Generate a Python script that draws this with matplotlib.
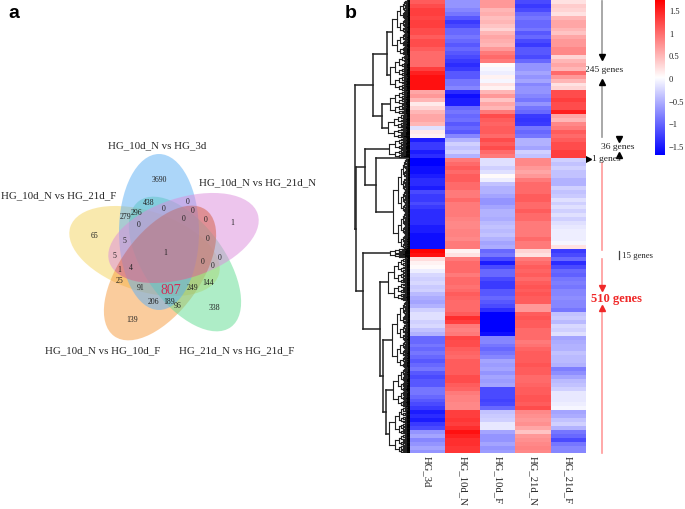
import numpy as np
import matplotlib
matplotlib.use("Agg")
import matplotlib.pyplot as plt
from matplotlib.colors import LinearSegmentedColormap
from matplotlib.patches import Ellipse

W, H = 685, 510
plt.rcParams['font.family'] = ['Liberation Serif', 'DejaVu Serif']

# venn
venn_names = ['HG_10d_N vs HG_21d_F', 'HG_10d_N vs HG_10d_F', 'HG_21d_N vs HG_21d_F',
              'HG_10d_N vs HG_3d', 'HG_10d_N vs HG_21d_N']
venn_colors = ['#F5D45E', '#F79A3C', '#5FDC90', '#5AAEF5', '#DC8CDC']
venn_counts = ['3690', '438', '279', '296', '0', '0', '0', '0', '0', '0', '5', '5', '1', '4', '25', '91',
               '65', '1', '0', '0', '0', '0', '144', '249', '338', '206', '189', '96', '139', '1']
venn_total = '807'

# heatmap, rows top to bottom
samples = ['HG_3d', 'HG_10d_N', 'HG_10d_F', 'HG_21d_N', 'HG_21d_F']
row_genes = [7] * 35 + [8, 7, 7, 7, 7] + [1] + [7] * 23 + [8, 7] + [7] * 49 + [6]
hg_3d = [1.1, 1.2, 1.3, 1.3, 1.25, 1.3, 1.3, 1.2, 1.2, 1.1, 1.2, 1.2, 1.1, 1.0, 1.0, 1.0, 1.0,
         1.3, 1.5, 1.6, 1.6, 1.6, 1.6,
         0.6, 0.7, 0.5, 0.15, 0.3, 0.5, 0.6, 0.6, 0.5, -0.2, 0.15, 0.1,
         -1.5, -1.3, -1.3, -1.5, -1.4,
         -1.7,
         -1.7, -1.7, -1.6, -1.6, -1.5, -1.4, -1.4, -1.5, -1.2, -1.3, -1.3, -1.2, -1.3, -1.4, -1.4, -1.4,
         -1.4, -1.5, -1.5, -1.6, -1.6, -1.6, -1.6,
         1.7, 1.6,
         0.25, 0.1, 0.05, -0.1, -0.25, -0.3, -0.25, -0.35, -0.3, -0.45, -0.55, -0.6, -0.5, -0.3, -0.2, -0.2,
         -0.3, -0.25, -0.4, -0.5, -1.0, -1.0, -0.9, -1.0, -0.9, -1.0, -1.1, -1.0, -0.9, -1.1, -1.2, -1.1,
         -1.1, -0.9, -0.9, -1.0, -1.1, -1.2, -1.3, -1.5, -1.4, -1.5, -1.3, -1.2, -0.7, -0.6, -0.8, -0.7, -0.6, -0.7]
hg_10d_n = [-0.7, -0.7, -0.8, -0.9, -1.1, -1.3, -1.2, -1.0, -1.0, -0.9, -1.0, -1.1, -1.0, -1.1, -1.2, -1.3, -1.4,
            -1.3, -1.1, -1.1, -0.9, -0.9, -0.8,
            -1.4, -1.6, -1.5, -1.5, -1.0, -0.9, -1.0, -0.95, -1.1, -1.0, -1.1, -0.8,
            -0.5, -0.3, -0.4, -0.3, -0.5,
            0.9,
            0.9, 1.0, 1.1, 1.0, 1.1, 1.1, 1.0, 1.0, 0.9, 0.9, 1.0, 0.9, 0.9, 0.9, 0.9, 0.85,
            0.8, 0.8, 0.85, 0.85, 0.8, 0.9, 0.9,
            0.1, 0.2,
            0.9, 1.0, 1.0, 1.0, 0.9, 1.0, 1.0, 0.95, 1.0, 1.1, 1.05, 1.0, 1.0, 1.0, 1.1, 1.4,
            1.3, 0.9, 0.85, 0.9, 1.25, 1.2, 1.2, 1.1, 1.05, 1.0, 1.1, 1.1, 1.1, 1.1, 1.2, 1.2,
            1.1, 1.05, 0.9, 0.85, 0.85, 0.8, 0.8, 1.3, 1.3, 1.35, 1.3, 1.4, 1.6, 1.5, 1.4, 1.4, 1.35, 1.35]
hg_10d_f = [0.7, 0.7, 0.5, 0.55, 0.45, 0.5, 0.4, 0.3, 0.5, 0.6, 0.55, 0.5, 0.7, 0.9, 1.0, 0.9, 0.05,
            -0.05, -0.1, 0.1, -0.05, 0.2, 0.1,
            0.5, 0.7, 0.4, 0.6, 0.5, 0.9, 1.2, 1.1, 1.05, 1.1, 1.1, 1.0,
            1.2, 1.1, 1.2, 1.0, 0.9,
            0.1,
            -0.2, -0.2, -0.3, -0.2, 0.05, -0.1, -0.4, -0.5, -0.5, -0.6, -0.7, -0.7, -0.6, -0.5, -0.5, -0.55,
            -0.45, -0.4, -0.45, -0.4, -0.5, -0.6, -0.55,
            -1.0, -0.9,
            -1.2, -1.5, -1.2, -1.0, -1.0, -1.2, -1.3, -1.3, -1.1, -1.1, -1.0, -1.1, -1.2, -1.4, -1.7, -1.7,
            -1.7, -1.7, -1.7, -1.6, -0.8, -0.8, -0.9, -1.0, -0.9, -0.8, -0.6, -0.65, -0.6, -0.7, -0.6, -0.65,
            -0.6, -1.2, -1.2, -1.2, -1.25, -1.2, -1.0, -0.4, -0.35, -0.3, -0.15, -0.15, -0.6, -0.7, -0.7, -0.6, -0.7, -0.65]
hg_21d_n = [-1.2, -1.3, -1.2, -1.0, -0.9, -1.0, -1.0, -0.9, -1.1, -1.0, -1.2, -1.3, -1.1, -1.1, -1.2, -1.0, -0.7,
            -0.7, -0.6, -0.7, -0.6, -0.8, -0.7,
            -0.7, -0.8, -0.9, -0.7, -0.9, -1.0, -1.3, -1.35, -1.3, -0.9, -1.0, -0.9,
            -0.5, -0.5, -0.6, -0.3, -0.4,
            0.8,
            0.8, 0.8, 0.7, 0.6, 0.7, 0.9, 1.0, 1.0, 1.0, 1.1, 1.1, 1.0, 1.0, 1.1, 1.0, 1.0,
            0.9, 0.9, 0.9, 0.9, 1.0, 0.9, 0.9,
            0.3, 0.2,
            0.9, 1.0, 1.1, 1.05, 1.1, 1.0, 1.1, 1.15, 1.1, 1.15, 1.1, 1.1, 0.7, 0.7, 1.1, 1.15,
            1.1, 1.1, 1.0, 1.0, 1.0, 0.9, 0.95, 1.05, 1.1, 1.1, 1.1, 1.15, 1.1, 1.1, 1.0, 1.0,
            1.05, 1.1, 1.1, 1.15, 1.15, 1.1, 1.2, 0.8, 0.75, 0.7, 0.75, 0.6, 0.4, 0.7, 0.75, 0.8, 0.85, 0.8]
hg_21d_f = [0.2, 0.35, 0.3, 0.2, 0.5, 0.6, 0.6, 0.5, 0.4, 0.6, 0.7, 0.7, 0.8, 0.8, 0.3, 0.5, 0.6,
            0.5, 1.0, 0.7, 0.5, 0.2, 0.3,
            1.2, 1.2, 1.3, 1.2, 1.2, 1.5, 0.6, 0.5, 0.8, 0.9, 1.1, 1.0,
            1.1, 1.2, 1.2, 1.3, 1.3,
            0.15,
            -0.3, -0.4, -0.3, -0.4, -0.4, -0.5, -0.5, -0.3, -0.4, -0.35, -0.2, -0.3, -0.2, -0.3, -0.2, -0.3,
            -0.2, -0.15, -0.1, -0.1, -0.1, -0.05, 0.2,
            -1.3, -1.2,
            -1.0, -1.4, -1.2, -1.0, -1.05, -0.9, -0.85, -0.9, -0.8, -0.8, -0.75, -0.8, -0.8, -0.9, -0.4, -0.35,
            -0.45, -0.25, -0.3, -0.2, -0.6, -0.55, -0.5, -0.5, -0.4, -0.45, -0.45, -0.5, -0.85, -0.75, -0.6, -0.45,
            -0.4, -0.3, -0.15, -0.15, -0.15, -0.1, -0.05, -0.6, -0.55, -0.4, -0.3, -0.5, -0.9, -1.0, -1.2, -0.9, -0.8, -0.8]
cbar_ticks = [1.5, 1, 0.5, 0, -0.5, -1, -1.5]


def px_axes(x0, y0, x1, y1):
    # axes from pixel box, y counted from the top of the picture
    return fig.add_axes([x0 / W, 1 - y1 / H, (x1 - x0) / W, (y1 - y0) / H])


fig = plt.figure(figsize=(W / 100, H / 100), dpi=100)
cmap = LinearSegmentedColormap.from_list('bwr2', ['#0000FF', '#FFFFFF', '#FF0000'])

# overlay in picture pixels for the venn and notes
ax = px_axes(0, 0, W, H)
ax.set_xlim(0, W)
ax.set_ylim(H, 0)
ax.axis('off')

venn_xy = [(144.5, 252), (160, 274), (185, 265), (159, 233), (183.5, 239)]
venn_angle = [18, -54, 54, 90, -18]
patches = []
for xy, a, c in zip(venn_xy, venn_angle, venn_colors):
    patches.append(ax.add_patch(Ellipse(xy, 156, 80, angle=a, facecolor=c, edgecolor='none', alpha=0.5)))
# orange under purple goes salmon red in the original
tint = ax.add_patch(Ellipse(venn_xy[1], 156, 80, angle=venn_angle[1], facecolor='#C8503C', edgecolor='none', alpha=0.3))
tint.set_clip_path(patches[4])

name_xy = [(59, 196), (103, 351), (237, 351), (157, 146), (258, 183)]
for n, (x, y) in zip(venn_names, name_xy):
    ax.text(x, y, n, fontsize=7.8, ha='center', va='center', color='#222222')

count_xy = [(477, 150), (445, 219), (375, 262), (410, 250), (491, 238), (563, 215), (578, 243), (618, 270),
            (551, 267), (417, 285), (372, 332), (343, 379), (359, 421), (393, 414), (358, 452), (423, 474),
            (285, 319), (497, 369), (622, 327), (607, 396), (659, 383), (639, 408), (625, 458), (577, 474),
            (642, 534), (459, 517), (507, 516), (533, 529), (396, 570), (697, 279)]
for s, (x, y) in zip(venn_counts, count_xy):
    ax.text(x / 3, 130 + y / 3, s, fontsize=5.6, ha='center', va='center', color='#222222')
ax.text(171, 291, venn_total, fontsize=10, ha='center', va='center', color='#D22C58')

ax.text(14, 14, 'a', fontsize=14, fontweight='bold', family='Liberation Sans', ha='center', va='center')
ax.text(351, 13, 'b', fontsize=14, fontweight='bold', family='Liberation Sans', ha='center', va='center')

# gene count notes right of the heatmap
line_x = 601.7
ax.plot([line_x, line_x], [2, 57], color='#999999', lw=1.2)
ax.plot([line_x, line_x], [84, 138], color='#999999', lw=1.2)
ax.plot([line_x], [58], marker='v', ms=5, color='black')
ax.plot([line_x], [83], marker='^', ms=5, color='black')
ax.text(604.5, 70, '245 genes', fontsize=6.8, ha='center', va='center', color='#222222')
ax.plot([619.5], [139.5], marker='v', ms=4.5, color='black')
ax.plot([619.5], [155.5], marker='^', ms=4.5, color='black')
ax.text(618, 147, '36 genes', fontsize=6.8, ha='center', va='center', color='#222222')
ax.plot([588.5], [159.5], marker='>', ms=4.5, color='black')
ax.text(592, 159, '1 genes', fontsize=6.8, ha='left', va='center', color='#222222')
ax.plot([line_x, line_x], [164, 251], color='#FF9A9A', lw=1.2)
ax.plot([line_x, line_x], [260, 286], color='#FF9A9A', lw=1.2)
ax.plot([line_x, line_x], [312, 454], color='#FF9A9A', lw=1.2)
ax.plot([line_x], [289], marker='v', ms=4.5, color='#F02828')
ax.plot([line_x], [309], marker='^', ms=4.5, color='#F02828')
ax.text(616, 299.5, '510 genes', fontsize=9, fontweight='bold', ha='center', va='center', color='#F02828')
ax.plot([619, 619], [252, 260], color='#444444', lw=0.9)
ax.text(622, 256, '15 genes', fontsize=6.3, ha='left', va='center', color='#222222')

# heatmap
edges = np.concatenate([[0], np.cumsum(row_genes)])
values = np.array([hg_3d, hg_10d_n, hg_10d_f, hg_21d_n, hg_21d_f]).T
hm = px_axes(409.7, 1, 585.7, 454)
hm.pcolormesh(np.arange(6), edges, values, cmap=cmap, vmin=-1.7, vmax=1.72)
hm.set_ylim(edges[-1], 0)
hm.set_xticks(np.arange(5) + 0.5)
hm.set_xticklabels(samples, rotation=-90, fontsize=7.7, color='#222222')
hm.set_yticks([])
hm.tick_params(length=0, pad=1.5)
for sp in hm.spines.values():
    sp.set_visible(False)

# dendrogram, x in picture pixels
den = px_axes(350, 1, 409.7, 454)
den.set_xlim(350, 409.7)
den.set_ylim(edges[-1], 0)
den.axis('off')


def fan(x, a, b):
    # small brackets down to the single genes
    if b - a <= 1:
        y = (a + b) / 2
        den.plot([x, 409.7], [y, y], color='black', lw=0.7, solid_capstyle='butt')
        return y
    m = a + int((b - a) * 0.6)
    nx = x + (408 - x) * 0.3
    y1 = fan(nx, a, m)
    y2 = fan(nx, m, b)
    den.plot([x, nx], [y1, y1], color='#222222', lw=0.8)
    den.plot([x, nx], [y2, y2], color='#222222', lw=0.8)
    den.plot([x, x], [y1, y2], color='#222222', lw=0.8)
    return (y1 + y2) / 2


def draw(node):
    # node is (height, left, right) or a (height, first row, last row) cluster
    x = node[0]
    if isinstance(node[1], tuple):
        xa, ya = draw(node[1])
        xb, yb = draw(node[2])
        den.plot([x, xa], [ya, ya], color='#222222', lw=1.1)
        den.plot([x, xb], [yb, yb], color='#222222', lw=1.1)
        den.plot([x, x], [ya, yb], color='#222222', lw=1.1)
        return x, (ya + yb) / 2
    return x, fan(x, int(edges[node[1]]), int(edges[node[2] + 1]))


tree = (355, (373, (387, (392, 0, 13), (390, 14, 22)), (382, (390, 23, 28), (388, 29, 34))),
        (355.5, (365, (389, 35, 39), (376, (408, 40, 40), (393, 41, 63))),
         (363, (390, 64, 65), (380, (388, 66, 76),
                               (383, (392, 77, 93), (386, (393, 94, 103), (389, 104, 115)))))))
draw(tree)

# colorbar
cb = px_axes(655, 1, 665, 156)
grad = np.linspace(1.72, -1.7, 256).reshape(-1, 1)
cb.imshow(grad, aspect='auto', cmap=cmap, vmin=-1.7, vmax=1.72, extent=[0, 1, -1.7, 1.72])
cb.set_xticks([])
cb.yaxis.tick_right()
cb.set_yticks(cbar_ticks)
cb.set_yticklabels(['1.5', '1', '0.5', '0', '\u22120.5', '\u22121', '\u22121.5'], fontsize=6.1, color='#222222')
cb.tick_params(length=0, pad=2.8)
for sp in cb.spines.values():
    sp.set_visible(False)

fig.savefig('out.png', dpi=100)
